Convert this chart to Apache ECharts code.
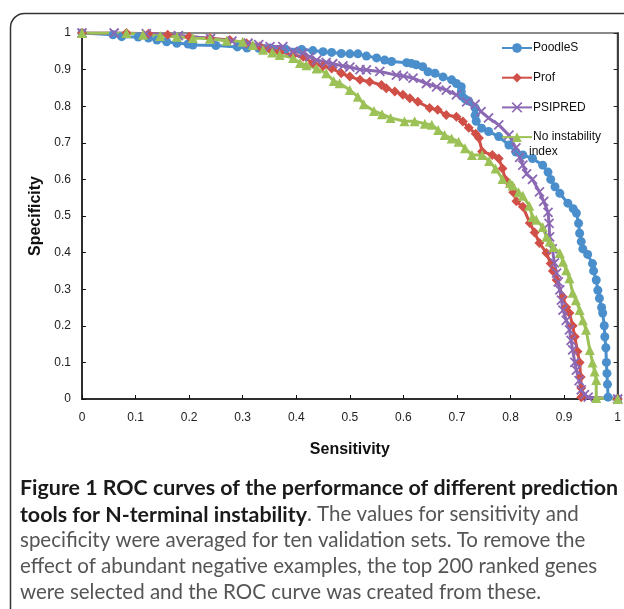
<!DOCTYPE html>
<html>
<head>
<meta charset="utf-8">
<script src="https://cdn.jsdelivr.net/npm/echarts@6/dist/echarts.min.js"></script>
<style>
html,body{margin:0;padding:0;background:#fff;}
#chart{width:624px;height:609px;}
</style>
</head>
<body>
<div id="chart"></div>
<script>
// ---- data ----
var seriesNames = ['PoodleS', 'Prof', 'PSIPRED', 'No instability index'];
var xTicks = [0, 0.1, 0.2, 0.3, 0.4, 0.5, 0.6, 0.7, 0.8, 0.9, 1];
var yTicks = [0, 0.1, 0.2, 0.3, 0.4, 0.5, 0.6, 0.7, 0.8, 0.9, 1];

var poodleS = [[0,1],[0.058,0.995],[0.074,0.99],[0.105,0.989],[0.124,0.986],[0.14,0.981],[0.158,0.976],[0.177,0.972],[0.198,0.97],[0.207,0.967],[0.25,0.966],[0.29,0.962],[0.308,0.959],[0.33,0.958],[0.351,0.959],[0.38,0.956],[0.41,0.955],[0.431,0.952],[0.45,0.949],[0.466,0.947],[0.484,0.944],[0.5,0.943],[0.515,0.943],[0.531,0.937],[0.55,0.932],[0.565,0.926],[0.578,0.922],[0.606,0.919],[0.615,0.917],[0.624,0.913],[0.636,0.908],[0.646,0.894],[0.659,0.89],[0.674,0.88],[0.69,0.872],[0.699,0.862],[0.708,0.853],[0.708,0.84],[0.709,0.828],[0.715,0.82],[0.722,0.814],[0.734,0.795],[0.734,0.775],[0.736,0.759],[0.746,0.74],[0.759,0.731],[0.778,0.717],[0.797,0.694],[0.81,0.675],[0.823,0.667],[0.841,0.657],[0.86,0.639],[0.87,0.62],[0.875,0.6],[0.883,0.58],[0.892,0.562],[0.907,0.535],[0.917,0.52],[0.923,0.508],[0.927,0.48],[0.929,0.453],[0.932,0.43],[0.935,0.41],[0.944,0.395],[0.953,0.37],[0.955,0.35],[0.96,0.325],[0.963,0.297],[0.966,0.275],[0.97,0.25],[0.972,0.235],[0.975,0.2],[0.976,0.17],[0.978,0.14],[0.979,0.1],[0.98,0.07],[0.981,0.04],[0.982,0.005],[1,0]];

var prof = [[0,1],[0.083,1.0],[0.124,0.998],[0.16,0.995],[0.2,0.99],[0.239,0.986],[0.276,0.981],[0.307,0.972],[0.332,0.963],[0.35,0.956],[0.369,0.949],[0.394,0.94],[0.413,0.935],[0.431,0.918],[0.45,0.91],[0.466,0.903],[0.484,0.89],[0.5,0.881],[0.519,0.872],[0.537,0.867],[0.559,0.858],[0.568,0.849],[0.584,0.84],[0.599,0.831],[0.612,0.822],[0.627,0.812],[0.649,0.795],[0.664,0.79],[0.68,0.776],[0.699,0.771],[0.711,0.758],[0.722,0.741],[0.735,0.725],[0.741,0.713],[0.747,0.676],[0.766,0.667],[0.778,0.657],[0.785,0.63],[0.79,0.6],[0.8,0.585],[0.805,0.565],[0.811,0.54],[0.823,0.525],[0.836,0.481],[0.845,0.455],[0.854,0.426],[0.867,0.399],[0.875,0.37],[0.879,0.35],[0.886,0.325],[0.898,0.279],[0.904,0.251],[0.91,0.235],[0.916,0.2],[0.92,0.17],[0.925,0.13],[0.929,0.1],[0.931,0.06],[0.932,0.03],[0.932,0.005],[1,0]];

var psipred = [[0,1],[0.06,1],[0.12,0.998],[0.18,0.993],[0.24,0.985],[0.28,0.978],[0.31,0.972],[0.33,0.968],[0.351,0.963],[0.375,0.963],[0.394,0.95],[0.412,0.945],[0.425,0.935],[0.438,0.926],[0.456,0.92],[0.468,0.916],[0.487,0.91],[0.5,0.907],[0.519,0.9],[0.531,0.899],[0.556,0.895],[0.587,0.885],[0.6,0.882],[0.618,0.877],[0.643,0.862],[0.662,0.853],[0.68,0.844],[0.699,0.831],[0.718,0.812],[0.734,0.805],[0.745,0.785],[0.759,0.768],[0.778,0.749],[0.797,0.721],[0.81,0.686],[0.817,0.66],[0.823,0.639],[0.83,0.615],[0.841,0.6],[0.854,0.566],[0.862,0.54],[0.87,0.51],[0.872,0.48],[0.873,0.443],[0.878,0.41],[0.882,0.372],[0.886,0.344],[0.889,0.32],[0.892,0.298],[0.895,0.27],[0.898,0.243],[0.904,0.215],[0.91,0.189],[0.913,0.16],[0.916,0.134],[0.92,0.1],[0.923,0.079],[0.928,0.05],[0.932,0.025],[0.938,0.012],[0.945,0.005],[1,0]];

var noInstability = [[0,1],[0.083,1.0],[0.114,0.995],[0.146,0.992],[0.177,0.99],[0.207,0.986],[0.239,0.984],[0.27,0.979],[0.3,0.976],[0.319,0.967],[0.338,0.954],[0.355,0.947],[0.369,0.94],[0.394,0.932],[0.407,0.918],[0.419,0.912],[0.438,0.903],[0.456,0.89],[0.47,0.869],[0.481,0.863],[0.5,0.844],[0.515,0.826],[0.526,0.805],[0.545,0.787],[0.56,0.778],[0.576,0.768],[0.602,0.759],[0.621,0.759],[0.64,0.752],[0.653,0.749],[0.665,0.735],[0.677,0.721],[0.69,0.712],[0.703,0.703],[0.715,0.685],[0.728,0.667],[0.747,0.667],[0.76,0.65],[0.772,0.63],[0.785,0.601],[0.799,0.59],[0.804,0.583],[0.815,0.565],[0.823,0.555],[0.835,0.528],[0.841,0.497],[0.848,0.49],[0.86,0.47],[0.867,0.443],[0.873,0.43],[0.88,0.415],[0.892,0.399],[0.898,0.375],[0.904,0.352],[0.91,0.33],[0.916,0.29],[0.922,0.27],[0.929,0.243],[0.935,0.215],[0.941,0.189],[0.948,0.134],[0.953,0.1],[0.957,0.075],[0.96,0.052],[0.96,0.003],[1,0]];

var captionLines = [
  [['b','Figure 1 ROC curves of the performance of different prediction']],
  [['b','tools for N-terminal instability'],['n','. The values for sensitivity and']],
  [['n','specificity were averaged for ten validation sets. To remove the']],
  [['n','effect of abundant negative examples, the top 200 ranked genes']],
  [['n','were selected and the ROC curve was created from these.']]
];

// ---- styles ----
var colors = ['#4a8fcc', '#d04f47', '#8b68b4', '#9cc257'];
var symbols = ['circle', 'diamond', 'path://M0,0L10,10M10,0L0,10', 'triangle'];
var symbolSizes = [9, 10, 9, 10];
var labelFont = 'Liberation Sans, Arial, sans-serif';
var capFont = 'Lato, sans-serif';

// fit caption font sizes to reference line widths
var ctx = document.createElement('canvas').getContext('2d');
ctx.font = 'bold 18px Lato';
var w18 = ctx.measureText(captionLines[0][0][1]).width;
var capSizeB = Math.round(18 * 598 / w18 * 10) / 10;
ctx.font = 'normal 18px Lato';
var wn18 = ctx.measureText(captionLines[3][0][1]).width;
var capSizeN = Math.round(18 * 578 / wn18 * 10) / 10;

var chart = echarts.init(document.getElementById('chart'), null, {renderer: 'canvas'});

var dataSets = [poodleS, prof, psipred, noInstability];
var series = dataSets.map(function (d, i) {
  return {
    name: seriesNames[i],
    type: 'line',
    data: d,
    symbol: symbols[i],
    symbolSize: symbolSizes[i],
    showSymbol: true,
    lineStyle: {color: colors[i], width: 3},
    itemStyle: {color: colors[i], borderColor: colors[i], borderWidth: i === 2 ? 1.8 : 0},
    emphasis: {disabled: true},
    animation: false
  };
});

var graphics = [{
  type: 'rect',
  shape: {x: 10.5, y: 13.5, width: 700, height: 700, r: 14},
  style: {fill: 'none', stroke: '#333', lineWidth: 1.5},
  silent: true, z: -10
}, {
  type: 'text',
  left: 529,
  top: 146,
  style: {text: 'index', font: '12px ' + labelFont, fill: '#111'},
  z: 10
}];
var capY = [487, 514, 540, 566, 592];
captionLines.forEach(function (parts, i) {
  var txt = parts.map(function (p) { return '{' + p[0] + '|' + p[1] + '}'; }).join('');
  graphics.push({
    type: 'text',
    left: 20,
    top: capY[i] - capSizeB * 0.6 + 3,
    style: {
      text: txt,
      font: capSizeB + 'px ' + capFont,
      rich: {
        b: {fontWeight: 'bold', fill: '#1a1a1a', fontSize: capSizeB, fontFamily: capFont},
        n: {fontWeight: 'normal', fill: '#555', fontSize: capSizeN, fontFamily: capFont}
      }
    }
  });
});

var option = {
  backgroundColor: '#fff',
  animation: false,
  grid: {left: 82, top: 33, width: 536, height: 366, show: true, borderColor: '#8a8a8a', borderWidth: 2, backgroundColor: 'transparent'},
  legend: {
    orient: 'vertical',
    left: 496,
    top: 37,
    itemWidth: 30,
    itemHeight: 12,
    itemGap: 17.7,
    itemStyle: {borderWidth: 0},
    textStyle: {fontSize: 12, fontFamily: labelFont, color: '#111', padding: [0, 0, 0, -4]},
    data: [
      {name: seriesNames[0]},
      {name: seriesNames[1]},
      {name: seriesNames[2], itemStyle: {borderWidth: 1.6, borderColor: colors[2]}},
      {name: seriesNames[3]}
    ],
    formatter: function (n) { return n === 'No instability index' ? 'No instability' : n; }
  },
  xAxis: {
    type: 'value', min: 0, max: 1, interval: 0.1,
    axisLine: {show: true, lineStyle: {color: '#111', width: 1.5}},
    axisTick: {show: true, inside: true, length: 4, lineStyle: {color: '#111', width: 1}},
    axisLabel: {fontSize: 12, fontFamily: labelFont, color: '#222', margin: 13,
      formatter: function (v) { var t = xTicks.filter(function (x) { return Math.abs(x - v) < 1e-6; }); return t.length ? String(t[0]) : ''; }},
    splitLine: {show: false},
    name: 'Sensitivity', nameLocation: 'middle', nameGap: 43,
    nameTextStyle: {fontSize: 16, fontWeight: 'bold', fontFamily: labelFont, color: '#111'}
  },
  yAxis: [{
    type: 'value', min: 0, max: 1, interval: 0.1, position: 'left',
    axisLine: {show: true, lineStyle: {color: '#111', width: 1.5}},
    axisTick: {show: true, inside: true, length: 4, lineStyle: {color: '#111', width: 1}},
    axisLabel: {fontSize: 12, fontFamily: labelFont, color: '#222', margin: 11,
      formatter: function (v) { var t = yTicks.filter(function (y) { return Math.abs(y - v) < 1e-6; }); return t.length ? String(t[0]) : ''; }},
    splitLine: {show: false},
    name: 'Specificity', nameLocation: 'middle', nameGap: 38,
    nameTextStyle: {fontSize: 16, fontWeight: 'bold', fontFamily: labelFont, color: '#111'}
  }, {
    type: 'value', min: 0, max: 1, interval: 0.1, position: 'right',
    axisLine: {show: true, lineStyle: {color: '#222', width: 1.5}},
    axisTick: {show: true, inside: true, length: 4, lineStyle: {color: '#222', width: 1}},
    axisLabel: {show: false},
    splitLine: {show: false}
  }],
  graphic: graphics,
  series: series
};
chart.setOption(option);
</script>
</body>
</html>
